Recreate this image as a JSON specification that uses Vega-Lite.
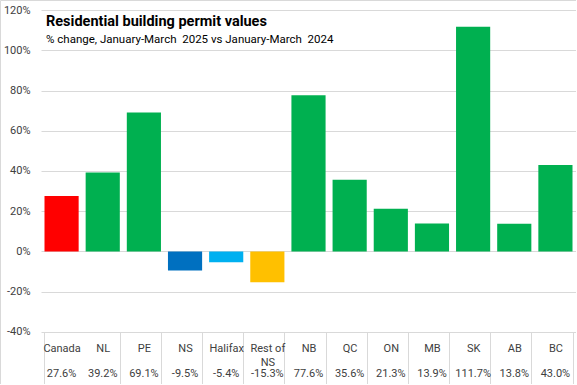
{
  "$schema": "https://vega.github.io/schema/vega-lite/v6.json",
  "width": 576,
  "height": 384,
  "autosize": "none",
  "padding": 0,
  "background": "white",
  "title": {
    "text": "Residential building permit values",
    "subtitle": "% change, January-March\u00a0 2025 vs January-March\u00a0 2024",
    "anchor": "start",
    "frame": "group",
    "orient": "top",
    "offset": 0,
    "dx": 46,
    "dy": 46,
    "font": "Roboto",
    "fontSize": 14.5,
    "fontWeight": "bold",
    "color": "#000000",
    "subtitleFont": "Roboto",
    "subtitleFontSize": 11.5,
    "subtitleColor": "#000000",
    "subtitlePadding": 4
  },
  "data": {
    "values": [
      {"region": "Canada", "v": 0.276},
      {"region": "NL", "v": 0.392},
      {"region": "PE", "v": 0.691},
      {"region": "NS", "v": -0.095},
      {"region": "Halifax", "v": -0.054},
      {"region": "Rest of NS", "v": -0.153},
      {"region": "NB", "v": 0.776},
      {"region": "QC", "v": 0.356},
      {"region": "ON", "v": 0.213},
      {"region": "MB", "v": 0.139},
      {"region": "SK", "v": 1.117},
      {"region": "AB", "v": 0.138},
      {"region": "BC", "v": 0.430}
    ]
  },
  "encoding": {
    "x": {
      "field": "region",
      "type": "nominal",
      "sort": null,
      "title": null,
      "scale": {"range": [41, 576], "paddingInner": 0.17, "paddingOuter": 0.085},
      "axis": {
        "orient": "bottom",
        "offset": -52,
        "domain": false,
        "ticks": true,
        "tickBand": "extent",
        "tickSize": 52,
        "tickColor": {"condition": {"test": "datum.value == 'Canada'", "value": "transparent"}, "value": "#D9D9D9"},
        "grid": false,
        "labelAngle": 0,
        "labelFont": "Roboto",
        "labelFontSize": 11,
        "labelColor": "#404040",
        "labelBaseline": "middle",
        "labelLineHeight": 14,
        "labelPadding": -36,
        "labelExpr": "datum.label == 'Rest of NS' ? ['Rest of', 'NS'] : datum.label"
      }
    }
  },
  "layer": [
    {
      "mark": {"type": "bar"},
      "encoding": {
        "y": {
          "field": "v",
          "type": "quantitative",
          "title": null,
          "scale": {"domain": [-0.6584, 1.2497], "nice": false, "zero": false},
          "axis": {
            "values": [-0.4, -0.2, 0, 0.2, 0.4, 0.6, 0.8, 1.0, 1.2],
            "format": ".0%",
            "offset": -41,
            "domain": false,
            "ticks": false,
            "grid": true,
            "gridColor": "#D9D9D9",
            "labelFont": "Roboto",
            "labelFontSize": 11,
            "labelColor": "#404040",
            "labelPadding": 11
          }
        },
        "color": {
          "field": "region",
          "type": "nominal",
          "legend": null,
          "scale": {
            "domain": ["Canada", "NL", "PE", "NS", "Halifax", "Rest of NS", "NB", "QC", "ON", "MB", "SK", "AB", "BC"],
            "range": ["#FF0000", "#00B050", "#00B050", "#0070C0", "#00B0F0", "#FFC000", "#00B050", "#00B050", "#00B050", "#00B050", "#00B050", "#00B050", "#00B050"]
          }
        }
      }
    },
    {
      "mark": {"type": "text", "baseline": "middle", "align": "center", "font": "Roboto", "fontSize": 11, "color": "#404040"},
      "encoding": {
        "y": {"datum": -0.61, "type": "quantitative"},
        "text": {"field": "v", "type": "quantitative", "format": ".1%"}
      }
    }
  ],
  "config": {
    "view": {"stroke": "#D9D9D9", "strokeWidth": 1},
    "locale": {
      "number": {
        "decimal": ".",
        "thousands": ",",
        "grouping": [3],
        "currency": ["$", ""],
        "minus": "-"
      }
    }
  }
}
